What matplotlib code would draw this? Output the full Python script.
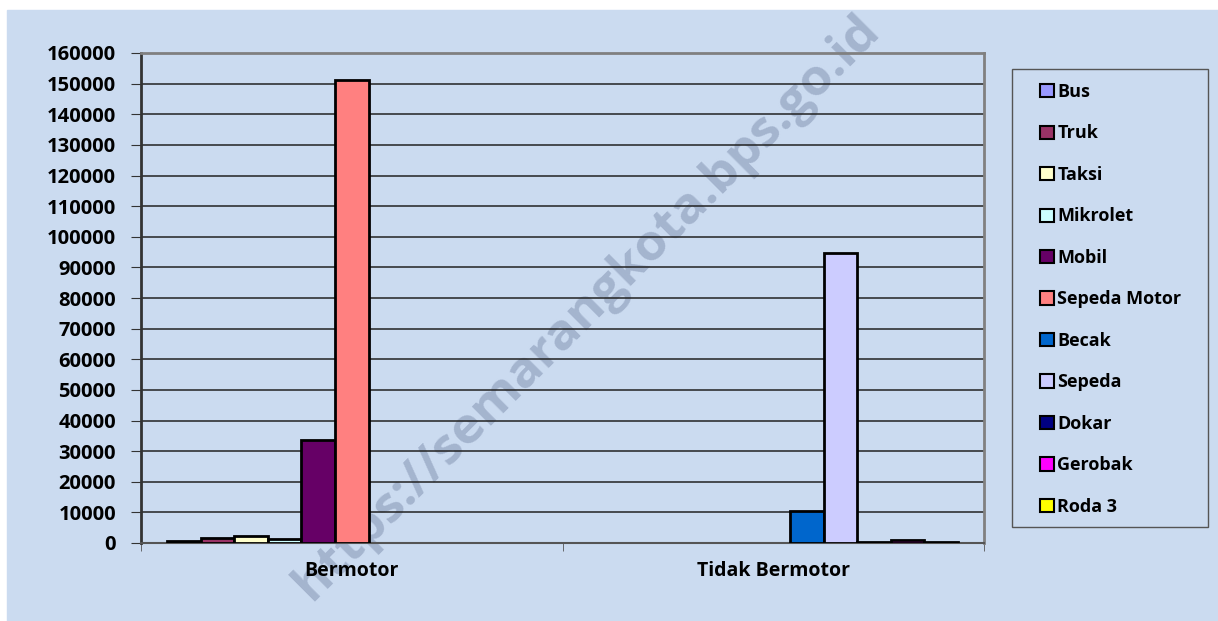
import matplotlib.pyplot as plt
import numpy as np

plt.rcParams['font.family'] = ['Open Sans', 'DejaVu Sans']

categories = ['Bermotor', 'Tidak Bermotor']
series = ['Bus', 'Truk', 'Taksi', 'Mikrolet', 'Mobil', 'Sepeda Motor',
          'Becak', 'Sepeda', 'Dokar', 'Gerobak', 'Roda 3']
bus = [500, 0]
truk = [1700, 0]
taksi = [2200, 0]
mikrolet = [1300, 0]
mobil = [33600, 0]
sepeda_motor = [151300, 0]
becak = [0, 10500]
sepeda = [0, 94800]
dokar = [0, 300]
gerobak = [0, 900]
roda3 = [0, 300]
values = [bus, truk, taksi, mikrolet, mobil, sepeda_motor,
          becak, sepeda, dokar, gerobak, roda3]
colors = ['#9999FF', '#993366', '#FFFFCC', '#CCFFFF', '#660066', '#FF8080',
          '#0066CC', '#CCCCFF', '#000080', '#FF00FF', '#FFFF00']
yticks = list(range(0, 160001, 10000))

W, H = 1218, 621
bg = '#CBDBF0'
fig = plt.figure(figsize=(W / 100, H / 100), dpi=100, facecolor='white')
fig.patches.append(plt.Rectangle((7 / W, 0), 1 - 7 / W, 1 - 10 / H,
                                 transform=fig.transFigure, color=bg, zorder=-10))

# watermark
fig.text(0.482, 0.505, 'https://semarangkota.bps.go.id', rotation=45,
         ha='center', va='center', fontsize=37, fontweight='bold',
         color='#8A9BB8', alpha=0.6, zorder=-5)

ax = fig.add_axes([141 / W, 1 - 543 / H, (984 - 141) / W, (543 - 53) / H])
ax.patch.set_alpha(0)

n = len(series)
w = 0.0795
x = np.arange(len(categories))
for i, (name, v, c) in enumerate(zip(series, values, colors)):
    v = np.array(v, dtype=float)
    v[v == 0] = np.nan
    ax.bar(x + (i - (n - 1) / 2) * w, v, w, color=c, edgecolor='black',
           linewidth=2, label=name, zorder=3)

ax.set_xlim(-0.5, 1.5)
ax.set_ylim(0, 160000)
ax.set_yticks(yticks)
ax.set_yticklabels([str(t) for t in yticks], fontsize=14.5, fontweight='bold')
ax.set_xticks(x)
ax.set_xticklabels(categories, fontsize=14, fontweight='bold')
ax.set_xticks([-0.5, 0.5, 1.5], minor=True)
ax.tick_params(axis='x', which='major', length=0, pad=13)
ax.tick_params(axis='x', which='minor', length=6, color='#555555')
ax.tick_params(axis='y', length=7, color='#333333', pad=11)
ax.grid(axis='y', color='#222222', linewidth=1.1, zorder=0)
for s in ['top', 'right']:
    ax.spines[s].set_color('#808080')
    ax.spines[s].set_linewidth(2)
ax.spines['left'].set_color('#333333')
ax.spines['left'].set_linewidth(2)
ax.spines['bottom'].set_color('#555555')
ax.spines['bottom'].set_linewidth(1.5)

# legend frame drawn separately, entries placed inside it
fig.patches.append(plt.Rectangle((1012 / W, 1 - 527 / H), 196 / W, 458 / H,
                                 transform=fig.transFigure, facecolor=bg,
                                 edgecolor='#555555', linewidth=1, zorder=1))
leg = fig.legend(loc='upper left', bbox_to_anchor=(1040 / W, 1 - 83 / H),
                 frameon=False, handlelength=0.75, handleheight=0.75,
                 handletextpad=0.2, labelspacing=1.3, borderpad=0,
                 borderaxespad=0, prop={'weight': 'bold', 'size': 13})
leg.set_zorder(5)
for p in leg.get_patches():
    p.set_linewidth(1.5)

fig.savefig('out.png', dpi=100, facecolor='white')
